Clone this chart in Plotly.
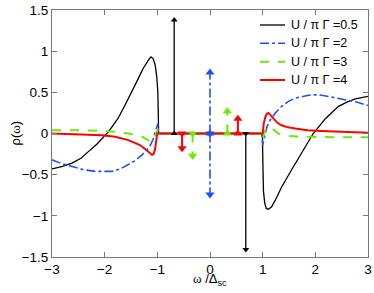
import plotly.graph_objects as go

# ---- data ----
series_names = ["U / π Γ =0.5", "U / π Γ =2", "U / π Γ =3", "U / π Γ =4"]

black_w = [-3.0, -2.8, -2.62, -2.45, -2.31, -2.15, -1.93, -1.75, -1.61, -1.48, -1.36, -1.27,
           -1.2, -1.15, -1.12, -1.08, -1.04, -1.01, -0.99, -0.98, -0.975,
           0.975, 0.995, 1.005, 1.015, 1.04, 1.07, 1.11, 1.17, 1.24, 1.36, 1.55, 1.74, 1.96,
           2.19, 2.44, 2.6, 2.76, 3.0]
black_rho = [-0.43, -0.40, -0.36, -0.30, -0.22, -0.13, 0.02, 0.18, 0.35, 0.51, 0.67, 0.79,
             0.87, 0.91, 0.93, 0.91, 0.83, 0.68, 0.50, 0.2, 0.0,
             0.0, 0.0, -0.4, -0.7, -0.85, -0.91, -0.92, -0.89, -0.81, -0.65, -0.44, -0.24, 0.0,
             0.18, 0.33, 0.38, 0.42, 0.45]

blue_w = [-3.0, -2.8, -2.62, -2.4, -2.18, -2.0, -1.86, -1.7, -1.55, -1.42, -1.29, -1.2, -1.13,
          -1.08, -1.04, -0.99, -0.985,
          0.985, 1.0, 1.04, 1.08, 1.15, 1.24, 1.36, 1.49, 1.62, 1.74, 1.87, 2.0, 2.12, 2.25,
          2.4, 2.57, 2.8, 3.0]
blue_rho = [-0.32, -0.37, -0.40, -0.44, -0.46, -0.465, -0.46, -0.43, -0.38, -0.33, -0.26,
            -0.20, -0.14, -0.07, 0.02, 0.12, 0.0,
            0.0, -0.14, -0.02, 0.08, 0.17, 0.25, 0.33, 0.39, 0.43, 0.45, 0.465, 0.47, 0.465,
            0.45, 0.43, 0.41, 0.38, 0.34]

green_w = [-3.0, -2.5, -2.05, -1.8, -1.55, -1.4, -1.29, -1.2, -1.13, -1.07, -1.04, -1.01,
           -0.99, -0.985, 0.985, 1.0, 1.03, 1.07, 1.14, 1.22, 1.3, 1.4, 1.49, 1.65, 1.81,
           2.3, 3.0]
green_rho = [0.04, 0.04, 0.03, 0.02, 0.0, -0.02, -0.04, -0.07, -0.10, -0.08, -0.04, 0.02,
             0.06, 0.0, 0.0, -0.08, 0.02, 0.07, 0.08, 0.04, 0.0, -0.02, -0.03, -0.037, -0.04,
             -0.045, -0.045]

red_w = [-3.0, -2.5, -2.05, -1.8, -1.55, -1.44, -1.33, -1.25, -1.17, -1.13, -1.1, -1.07,
         -1.04, -1.02, -1.0,
         1.0, 1.02, 1.05, 1.08, 1.11, 1.15, 1.2, 1.28, 1.36, 1.48, 1.62, 1.85, 2.12, 2.5, 3.0]
red_rho = [0.0, -0.01, -0.02, -0.04, -0.08, -0.11, -0.14, -0.18, -0.22, -0.25, -0.26, -0.25,
           -0.18, -0.08, 0.0,
           0.0, 0.12, 0.2, 0.24, 0.25, 0.22, 0.18, 0.13, 0.10, 0.075, 0.06, 0.04, 0.03, 0.02,
           0.01]

# delta-peak arrows (position, height)
black_delta_w = [-0.68, 0.68]
black_delta_h = [1.38, -1.41]
blue_delta_w = [0.0, 0.0]
blue_delta_h = [0.74, -0.74]
green_delta_w = [0.33, -0.33]
green_delta_h = [0.27, -0.27]
red_delta_w = [0.53, -0.53]
red_delta_h = [0.18, -0.18]

x_ticks = [-3, -2, -1, 0, 1, 2, 3]
y_ticks = [-1.5, -1, -0.5, 0, 0.5, 1, 1.5]

# ---- styles ----
styles = [
    dict(color="#000000", width=1.3, dash="solid", msize=6),
    dict(color="#1f4fff", width=1.6, dash="dashdot", msize=8),
    dict(color="#66ee00", width=2.0, dash="dash", msize=8),
    dict(color="#ff0000", width=2.0, dash="solid", msize=8),
]
curves = [(black_w, black_rho), (blue_w, blue_rho), (green_w, green_rho), (red_w, red_rho)]
deltas = [(black_delta_w, black_delta_h), (blue_delta_w, blue_delta_h),
          (green_delta_w, green_delta_h), (red_delta_w, red_delta_h)]

fig = go.Figure()
for name, (w, r), st in zip(series_names, curves, styles):
    fig.add_trace(go.Scatter(
        x=w, y=r, mode="lines", name=name, showlegend=False,
        line=dict(color=st["color"], width=st["width"], dash=st["dash"]),
    ))
for (dw, dh), st in zip(deltas, styles):
    for xw, h in zip(dw, dh):
        sym = "triangle-up" if h > 0 else "triangle-down"
        fig.add_trace(go.Scatter(
            x=[xw, xw], y=[0, h], mode="lines+markers", showlegend=False,
            line=dict(color=st["color"], width=st["width"], dash=st["dash"]),
            marker=dict(symbol=sym, size=st["msize"], color=st["color"]),
        ))

axis_common = dict(
    showgrid=False, zeroline=False, showline=True, linecolor="#777777", linewidth=1,
    mirror="ticks", ticks="inside", ticklen=5, tickcolor="#777777",
    tickfont=dict(size=13.5, color="#000000"), automargin=False,
)
fig.update_xaxes(range=[-3, 3], tickvals=x_ticks,
                 ticktext=[("−" + str(abs(t))) if t < 0 else str(t) for t in x_ticks],
                 **axis_common)
fig.update_yaxes(range=[-1.5, 1.5], tickvals=y_ticks,
                 ticktext=[("−" + ("%g" % abs(t))) if t < 0 else ("%g" % t) for t in y_ticks],
                 **axis_common)

# axis titles as annotations for precise placement
fig.add_annotation(text="<span style='font-family:Liberation Serif'>ω</span> /Δ<sub>sc</sub>",
                   xref="x", yref="paper", x=0, y=0, yanchor="top", xanchor="center",
                   yshift=-12, showarrow=False, font=dict(size=13, color="#000000"))
fig.add_annotation(text="ρ(<span style='font-family:Liberation Serif'>ω</span>)",
                   xref="paper", yref="y", x=0, y=0, xanchor="center", yanchor="middle",
                   xshift=-37, textangle=-90, showarrow=False, font=dict(size=13, color="#000000"))

# legend (drawn in paper space: rows from the top of the plot)
W_PLOT, H_PLOT, L, T = 316.0, 247.0, 52.0, 10.0
def px(xp):
    return (xp - L) / W_PLOT
def py(yp):
    return 1 - (yp - T) / H_PLOT
legend_rows_px = [25, 43.3, 61.7, 80]
for name, st, yrow in zip(series_names, styles, legend_rows_px):
    fig.add_shape(type="line", xref="paper", yref="paper",
                  x0=px(260), x1=px(285), y0=py(yrow), y1=py(yrow),
                  line=dict(color=st["color"], width=st["width"], dash=st["dash"]))
    fig.add_annotation(text=name, xref="paper", yref="paper", x=px(289), y=py(yrow),
                       xanchor="left", yanchor="middle", showarrow=False,
                       font=dict(size=12.5, color="#000000"))

fig.update_layout(
    width=374, height=293, autosize=False,
    margin=dict(l=52, r=6, t=10, b=36, autoexpand=False),
    plot_bgcolor="white", paper_bgcolor="white",
    font=dict(family="Liberation Sans, Arial, sans-serif", size=13, color="#000000"),
    showlegend=False,
)

fig.write_html("out.html", post_script="document.body.style.margin='0';",
               config={"displayModeBar": False})
